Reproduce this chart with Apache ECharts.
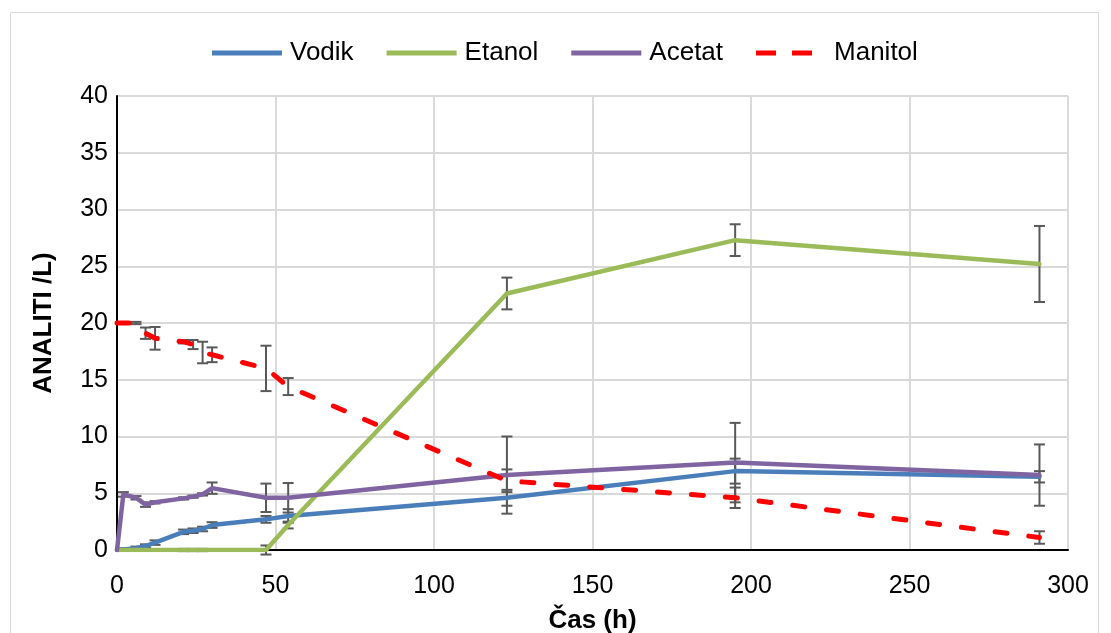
<!DOCTYPE html>
<html>
<head>
<meta charset="utf-8">
<script src="https://cdn.jsdelivr.net/npm/echarts@6/dist/echarts.min.js"></script>
<style>
html,body{margin:0;padding:0;background:#fff;}
#c{width:1111px;height:633px;}
</style>
</head>
<body>
<div id="c"></div>
<script>
// Sampling times (h)
var times = [0, 2, 6, 9, 12, 21, 24, 27, 30, 47, 54, 123, 195, 291];
// Series values
var vodik   = [0, 0.05, 0.15, 0.35, 0.65, 1.6, 1.7, 1.85, 2.2, 2.7, 3.0, 4.6, 6.95, 6.45];
var etanol  = [0, 0, 0, 0, 0, 0, 0, 0, 0, 0, 2.2, 22.6, 27.3, 25.2];
var acetat  = [0, 4.9, 4.6, 4.0, 4.2, 4.55, 4.7, 4.9, 5.45, 4.6, 4.6, 6.6, 7.7, 6.6];
var manitol = [20, 20, 20, 19.1, 18.65, 18.35, 18.1, 17.4, 17.2, 16.0, 14.4, 6.1, 4.6, 1.1];
// Error bar half-widths
var vodikErr   = [0, 0.1, 0.15, 0.15, 0.2, 0.2, 0.2, 0.2, 0.25, 0.3, 0.6, 0.7, 1.1, 0.5];
var etanolErr  = [0, 0, 0, 0, 0, 0.1, 0.1, 0.1, 0, 0.4, 0.3, 1.4, 1.4, 3.35];
var acetatErr  = [0, 0.2, 0.15, 0.2, 0.1, 0.1, 0.1, 0.1, 0.5, 1.25, 1.3, 3.4, 3.5, 2.7];
var manitolErr = [0, 0, 0.1, 0.5, 1.0, 0.15, 0.4, 0.95, 0.65, 2.0, 0.75, 1.0, 0.9, 0.55];
// Axis ticks
var xTicks = {min: 0, max: 300, interval: 50};
var yTicks = {min: 0, max: 40, interval: 5};

var names = ['Vodik', 'Etanol', 'Acetat', 'Manitol'];
var colors = ['#4A7EBB', '#9BBB59', '#8064A2', '#FF0000'];
var vals = [vodik, etanol, acetat, manitol];
var errs = [vodikErr, etanolErr, acetatErr, manitolErr];

function pairs(v) { return times.map(function (t, i) { return [t, v[i]]; }); }
function errData(v, e) { return times.map(function (t, i) { return [t, v[i], e[i]]; }); }

var FONT = '"Liberation Sans", Arial, sans-serif';

function renderErr(params, api) {
  var x = api.value(0), y = api.value(1), e = api.value(2);
  if (!e) return null;
  var top = api.coord([x, y + e]);
  var bot = api.coord([x, y - e]);
  var hw = 5.5;
  var st = {stroke: '#595959', lineWidth: 2};
  return {
    type: 'group',
    children: [
      {type: 'line', shape: {x1: top[0], y1: top[1], x2: bot[0], y2: bot[1]}, style: st},
      {type: 'line', shape: {x1: top[0] - hw, y1: top[1], x2: top[0] + hw, y2: top[1]}, style: st},
      {type: 'line', shape: {x1: bot[0] - hw, y1: bot[1], x2: bot[0] + hw, y2: bot[1]}, style: st}
    ]
  };
}

var series = [];
for (var i = 0; i < 4; i++) {
  series.push({
    name: names[i] + '_err',
    type: 'custom',
    renderItem: renderErr,
    data: errData(vals[i], errs[i]),
    z: 1,
    silent: true,
    encode: {x: 0, y: 1}
  });
}
for (var j = 0; j < 4; j++) {
  series.push({
    name: names[j],
    type: 'line',
    data: pairs(vals[j]),
    showSymbol: false,
    symbol: 'none',
    z: 3 + j,
    color: colors[j],
    lineStyle: j === 3
      ? {color: colors[j], width: 5, type: [12, 22], cap: 'round'}
      : {color: colors[j], width: 4.5, cap: 'round', join: 'round'}
  });
}

var solidIcon = 'path://M0,0L70,0L70,5L0,5Z';
var dashIcon = 'path://M0,0L20,0L20,5L0,5Z M36,0L56,0L56,5L36,5Z M69.9,2.5L70,2.5L70,2.6Z';

var chart = echarts.init(document.getElementById('c'), null, {renderer: 'canvas'});
chart.setOption({
  animation: false,
  backgroundColor: '#fff',
  graphic: [{
    type: 'rect', shape: {x: 10.5, y: 12.5, width: 1088, height: 640},
    style: {fill: 'none', stroke: '#d9d9d9', lineWidth: 1}, z: -10
  }],
  legend: {
    data: names.map(function (n, k) {
      return {name: n, icon: k === 3 ? dashIcon : solidIcon, itemStyle: {color: colors[k]}};
    }),
    top: 35,
    left: 207,
    itemWidth: 70,
    itemHeight: 5,
    itemGap: 33,
    textStyle: {fontFamily: FONT, fontSize: 26, color: '#000', padding: [0, 0, 0, 3]}
  },
  grid: {left: 117, right: 43, top: 96, bottom: 83, containLabel: false, outerBoundsMode: 'none'},
  xAxis: {
    type: 'value',
    min: xTicks.min, max: xTicks.max, interval: xTicks.interval,
    name: 'Čas (h)',
    nameLocation: 'middle',
    nameGap: 58,
    nameTextStyle: {fontFamily: FONT, fontSize: 26, fontWeight: 'bold', color: '#000'},
    axisLine: {show: true, lineStyle: {color: '#000', width: 2}},
    axisTick: {show: false},
    axisLabel: {fontFamily: FONT, fontSize: 25, color: '#000', margin: 24},
    splitLine: {show: true, lineStyle: {color: '#d9d9d9', width: 2}}
  },
  yAxis: {
    type: 'value',
    min: yTicks.min, max: yTicks.max, interval: yTicks.interval,
    name: 'ANALITI /L)',
    nameLocation: 'middle',
    nameGap: 60,
    nameTextStyle: {fontFamily: FONT, fontSize: 26, fontWeight: 'bold', color: '#000'},
    axisLine: {show: true, lineStyle: {color: '#000', width: 2}},
    axisTick: {show: false},
    axisLabel: {fontFamily: FONT, fontSize: 25, color: '#000', margin: 9},
    splitLine: {show: true, lineStyle: {color: '#d9d9d9', width: 2}}
  },
  series: series
});
</script>
</body>
</html>
